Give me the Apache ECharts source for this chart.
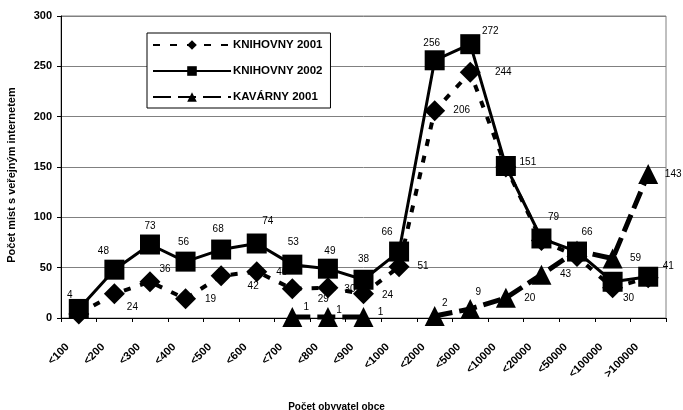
<!DOCTYPE html>
<html>
<head>
<meta charset="utf-8">
<script src="https://cdn.jsdelivr.net/npm/echarts@6/dist/echarts.min.js"></script>
<style>
  html, body { margin: 0; padding: 0; background: #fff; }
  #chart { width: 683px; height: 410px; }
</style>
</head>
<body>
<div id="chart"></div>
<script>
// Size classes of municipalities (population)
const categories = ['<100', '<200', '<300', '<400', '<500', '<600', '<700', '<800', '<900',
  '<1000', '<2000', '<5000', '<10000', '<20000', '<50000', '<100000', '>100000'];

const seriesNames = ['KNIHOVNY 2001', 'KNIHOVNY 2002', 'KAVÁRNY 2001'];

// Number of public internet access points per size class
const knihovny2001 = [4, 24, 36, 19, 42, 46, 29, 30, 24, 51, 206, 244, 150, 77, 61, 30, 40];
const knihovny2002 = [9, 48, 73, 56, 68, 74, 53, 49, 38, 66, 256, 272, 151, 79, 66, 36, 41];
const kavarny2001  = [null, null, null, null, null, null, 1, 1, 1, null, 2, 9, 20, 43, 67, 59, 143];

// Value axis
const yMin = 0, yMax = 300, yStep = 50;

// Label placement (pixel offset from the marker centre; null = no label)
const labelOffset2001 = [[-9, -19], [18, 13], [15, -13], [25, 0], [32, 11], [25, 1], [31, 10], [22, 1], [24, 1],
  [24, 0], [27, 0], [33, 0], null, null, null, [16, 10], null];
const labelOffset2002 = [null, [-11, -18], [0, -18], [-2, -19], [-3, -20], [11, -22], [1, -22], [2, -17], [0, -20],
  [-12, -19], [-3, -17], [20, -13], [22, -4], [12, -21], [10, -19], null, [20, -10]];
const labelOffsetKav = [null, null, null, null, null, null, [14, -10], [11, -7], [17, -5], null,
  [10, -13], [8, -17], [24, 0], [24, 0], null, [23, 0], [25, 0]];

const FONT = '"Liberation Sans", Arial, sans-serif';

function buildData(values, offsets) {
  return values.map((v, i) => {
    const off = offsets[i];
    if (v === null) return { value: null };
    if (!off) return { value: v, label: { show: false } };
    return { value: v, label: { show: true, offset: off } };
  });
}

const labelBase = {
  show: true,
  position: 'inside',
  color: '#000',
  fontFamily: FONT,
  fontSize: 10,
  textBorderWidth: 0,
  formatter: p => String(p.value)
};

const chart = echarts.init(document.getElementById('chart'), null, { renderer: 'canvas' });

chart.setOption({
  animation: false,
  backgroundColor: '#fff',
  textStyle: { fontFamily: FONT },
  grid: {
    left: 61, right: 17, top: 16, bottom: 92,
    containLabel: false,
    outerBoundsMode: 'none',
    show: true, borderColor: '#808080', borderWidth: 1, backgroundColor: 'transparent'
  },
  legend: {
    orient: 'vertical',
    left: 147, top: 33,
    data: seriesNames,
    itemWidth: 78, itemHeight: 12, itemGap: 14,
    backgroundColor: '#fff',
    borderColor: '#000', borderWidth: 1,
    padding: [6, 8, 5, 5],
    textStyle: { fontFamily: FONT, fontWeight: 'bold', fontSize: 11.5, color: '#000', padding: [0, 0, 0, -3] }
  },
  xAxis: {
    type: 'category',
    data: categories,
    boundaryGap: true,
    axisLine: { lineStyle: { color: '#000', width: 1 } },
    axisTick: { show: true, length: 4, interval: 0, lineStyle: { color: '#000' } },
    axisLabel: {
      interval: 0, rotate: 45, margin: 16, padding: [0, 16, 0, 0],
      fontFamily: FONT, fontWeight: 'bold', fontSize: 11, color: '#000'
    },
    splitLine: { show: false },
    name: 'Počet obyvatel obce',
    nameLocation: 'middle',
    nameGap: 84,
    nameTextStyle: { fontFamily: FONT, fontWeight: 'bold', fontSize: 10, color: '#000', padding: [0, 54, 0, 0] }
  },
  yAxis: {
    type: 'value',
    min: yMin, max: yMax, interval: yStep,
    axisLine: { show: true, lineStyle: { color: '#000', width: 1 } },
    axisTick: { show: true, length: 4, lineStyle: { color: '#000' } },
    axisLabel: { margin: 9, fontFamily: FONT, fontWeight: 'bold', fontSize: 11, color: '#000' },
    splitLine: { show: true, lineStyle: { color: '#808080', width: 1 } },
    name: 'Počet míst s veřejným internetem',
    nameLocation: 'middle',
    nameGap: 44,
    nameTextStyle: { fontFamily: FONT, fontWeight: 'bold', fontSize: 11, color: '#000', padding: [0, 16, 0, 0] }
  },
  series: [
    {
      name: seriesNames[0],
      type: 'line',
      data: buildData(knihovny2001, labelOffset2001),
      symbol: 'diamond', symbolSize: 21,
      itemStyle: { color: '#000' },
      lineStyle: { color: '#000', width: 4, type: [7, 10] },
      label: labelBase,
      z: 2
    },
    {
      name: seriesNames[1],
      type: 'line',
      data: buildData(knihovny2002, labelOffset2002),
      symbol: 'rect', symbolSize: 20,
      itemStyle: { color: '#000' },
      lineStyle: { color: '#000', width: 3, type: 'solid' },
      label: labelBase,
      z: 3
    },
    {
      name: seriesNames[2],
      type: 'line',
      data: buildData(kavarny2001, labelOffsetKav),
      connectNulls: false,
      symbol: 'triangle', symbolSize: 20,
      itemStyle: { color: '#000' },
      lineStyle: { color: '#000', width: 5, type: [18, 7] },
      label: labelBase,
      z: 4
    }
  ]
});
</script>
</body>
</html>
